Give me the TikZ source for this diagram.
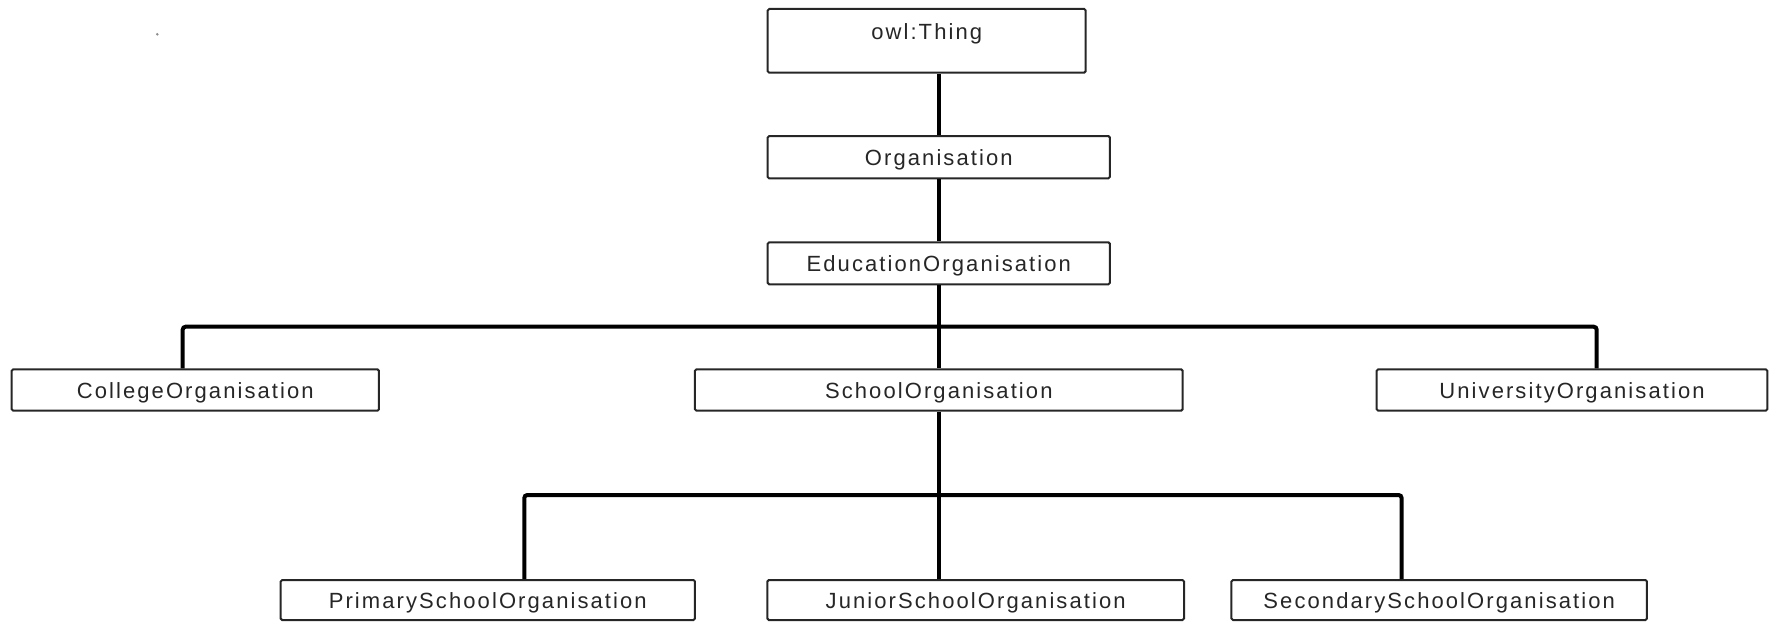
\documentclass[tikz,border=0pt]{standalone}
\usepackage{fontspec}
\newfontfamily\boxfont{Liberation Sans}[LetterSpace=9.5]
\begin{document}
\begin{tikzpicture}[x=1pt,y=-1pt,
  cls/.style={draw=black!85, line width=2pt, rounded corners=1.5pt, fill=white,
    inner sep=0pt, font=\boxfont\fontsize{22}{26}\selectfont, text=black!85,
    text height=18pt, text depth=2pt},
  topcls/.style={cls, text height=15pt, text depth=18pt},
  link/.style={draw=black, line width=4pt},
  bus/.style={link, rounded corners=3pt}]
\useasboundingbox (0,0) rectangle (1769,622);
\fill[black!45] (157.3,34.3) circle (1.4);
\node[topcls, minimum width=318, minimum height=63.7] (thing) at (926.7,40.8) {owl:Thing};
\node[cls, minimum width=342.3, minimum height=42.3] (org) at (938.8,157.2) {Organisation};
\node[cls, minimum width=342.3, minimum height=42] (edu) at (938.8,263.3) {EducationOrganisation};
\node[cls, minimum width=367.3, minimum height=41.4] (college) at (195.3,390) {CollegeOrganisation};
\node[cls, minimum width=487.7, minimum height=41.4] (school) at (938.8,390) {SchoolOrganisation};
\node[cls, minimum width=390.6, minimum height=41.4] (univ) at (1572,390) {UniversityOrganisation};
\node[cls, minimum width=414.3, minimum height=40] (primary) at (487.8,600) {PrimarySchoolOrganisation};
\node[cls, minimum width=416.7, minimum height=40] (junior) at (975.7,600) {JuniorSchoolOrganisation};
\node[cls, minimum width=415.5, minimum height=40] (secondary) at (1439.2,600) {SecondarySchoolOrganisation};
\coordinate (busA) at (938.8,326.7);
\coordinate (busB) at (938.8,495);
\draw[link] (org.north) -- (org.north |- thing.south);
\draw[link] (edu.north) -- (org.south);
\draw[link] (edu.south) -- (school.north);
\draw[bus] ([xshift=-12.6pt]college.north) |- (busA) -| ([xshift=24.7pt]univ.north);
\draw[link] (school.south) -- ([xshift=-36.9pt]junior.north);
\draw[bus] ([xshift=36.5pt]primary.north) |- (busB) -| ([xshift=-37.6pt]secondary.north);
\end{tikzpicture}
\end{document}
